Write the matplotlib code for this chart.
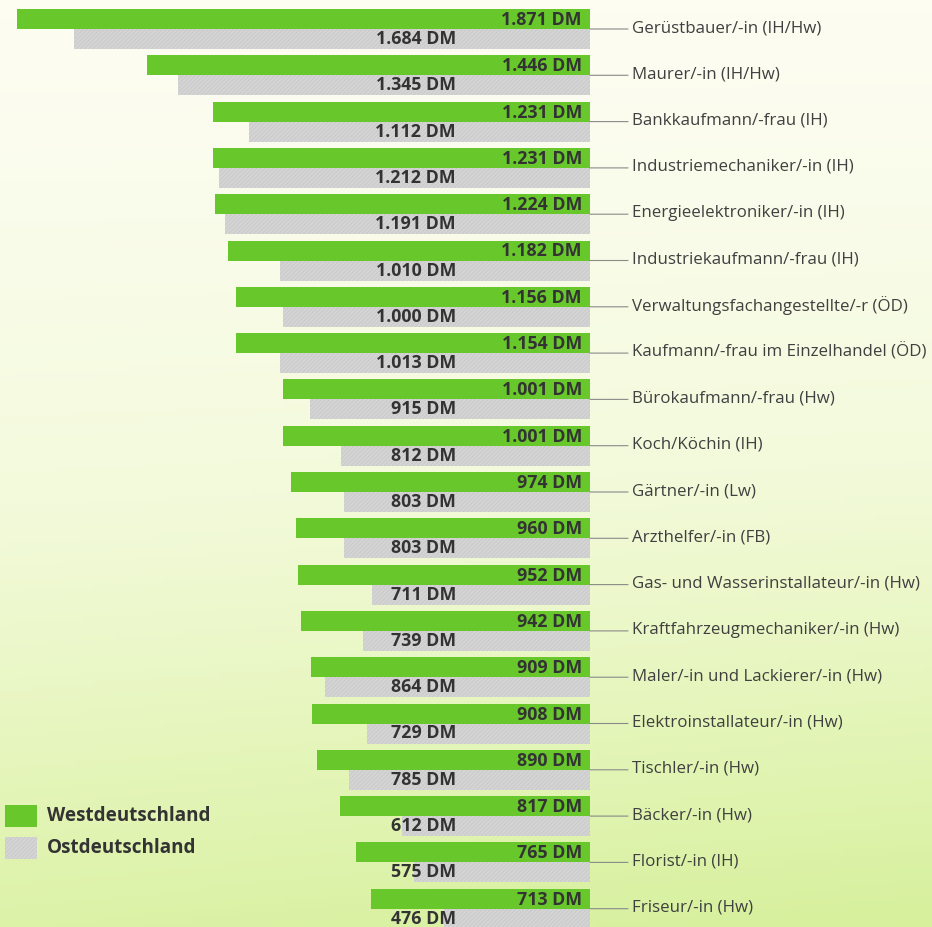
import numpy as np
import matplotlib
matplotlib.use("Agg")
import matplotlib.pyplot as plt
from matplotlib.colors import LinearSegmentedColormap

# ---- data ----
categories = [
    "Gerüstbauer/-in (IH/Hw)",
    "Maurer/-in (IH/Hw)",
    "Bankkaufmann/-frau (IH)",
    "Industriemechaniker/-in (IH)",
    "Energieelektroniker/-in (IH)",
    "Industriekaufmann/-frau (IH)",
    "Verwaltungsfachangestellte/-r (ÖD)",
    "Kaufmann/-frau im Einzelhandel (ÖD)",
    "Bürokaufmann/-frau (Hw)",
    "Koch/Köchin (IH)",
    "Gärtner/-in (Lw)",
    "Arzthelfer/-in (FB)",
    "Gas- und Wasserinstallateur/-in (Hw)",
    "Kraftfahrzeugmechaniker/-in (Hw)",
    "Maler/-in und Lackierer/-in (Hw)",
    "Elektroinstallateur/-in (Hw)",
    "Tischler/-in (Hw)",
    "Bäcker/-in (Hw)",
    "Florist/-in (IH)",
    "Friseur/-in (Hw)",
]
west = [1871, 1446, 1231, 1231, 1224, 1182, 1156, 1154, 1001, 1001,
        974, 960, 952, 942, 909, 908, 890, 817, 765, 713]
east = [1684, 1345, 1112, 1212, 1191, 1010, 1000, 1013, 915, 812,
        803, 803, 711, 739, 864, 729, 785, 612, 575, 476]
legend_labels = ["Westdeutschland", "Ostdeutschland"]

# ---- style ----
GREEN = "#68c82b"
GRAY = "#d4d4d4"
TXT = "#333333"
FONT = "Open Sans"

W, H = 932, 927
fig = plt.figure(figsize=(W / 100, H / 100), dpi=100)

# background gradient
bg = fig.add_axes([0, 0, 1, 1], zorder=0)
yy, xx = np.mgrid[0:1:200j, 0:1:200j]
t = np.clip((yy ** 1.3) * (0.88 + 0.12 * xx), 0, 1)
cmap = LinearSegmentedColormap.from_list(
    "bg", [(0, "#fdfdf2"), (0.4, "#f3fadb"), (0.72, "#e4f5b8"), (1, "#d6f09c")])
bg.imshow(t, cmap=cmap, aspect="auto", extent=[0, 1, 1, 0], vmin=0, vmax=1)
bg.set_axis_off()

ax = fig.add_axes([0, 0, 1, 1], zorder=1)
ax.patch.set_alpha(0)
ax.set_axis_off()

scale = 0.3065                     # px per DM
x0_px = 590                        # zero line in px
ax.set_xlim(x0_px / scale, -(W - x0_px) / scale)
pitch = 46.3
top = 29
ax.set_ylim((H - top) / pitch, -top / pitch)

plt.rcParams["hatch.linewidth"] = 0.35
y = np.arange(len(categories))
bh = 20 / pitch
ax.barh(y - bh / 2, west, height=bh, color=GREEN, linewidth=0, zorder=3)
ax.barh(y + bh / 2, east, height=bh, color=GRAY, edgecolor="#c2c2c2",
        hatch="////////", linewidth=0, zorder=2)


def fmt(v):
    return f"{v:,}".replace(",", ".") + " DM"


VFS = 12.8
for i, (c, w, e) in enumerate(zip(categories, west, east)):
    ax.annotate(fmt(w), xy=(0, i - bh / 2), xytext=(-8, -6), textcoords="offset pixels",
                ha="right", va="baseline", fontsize=VFS, fontweight="bold",
                color=TXT, family=FONT, zorder=5)
    ax.annotate(fmt(e), xy=(0, i + bh / 2), xytext=(-134, -5), textcoords="offset pixels",
                ha="right", va="baseline", fontsize=VFS, fontweight="bold",
                color=TXT, family=FONT, zorder=5)
    ax.annotate(c, xy=(0, i), xytext=(42, 1), textcoords="offset pixels",
                ha="left", va="center", fontsize=12.2, color="#404040",
                family=FONT, zorder=5)
    ax.annotate("", xy=(0, i), xytext=(38, 0), textcoords="offset pixels",
                arrowprops=dict(arrowstyle="-", color="#8a8a8a", lw=0.8,
                                shrinkA=0, shrinkB=0), zorder=4)

# legend
for k, (lab, col) in enumerate(zip(legend_labels, [GREEN, GRAY])):
    ypx = 816 + k * 32
    fig.patches.append(plt.Rectangle((5 / W, 1 - (ypx + 11) / H), 32 / W, 22 / H,
                                     transform=fig.transFigure, facecolor=col,
                                     edgecolor="#c2c2c2" if k else "none",
                                     hatch="////////" if k else None,
                                     linewidth=0, zorder=5))
    fig.text(47 / W, 1 - ypx / H, lab, ha="left", va="center", fontsize=13.6,
             fontweight="bold", color=TXT, family=FONT, zorder=6)

fig.savefig("out.png", dpi=100)
